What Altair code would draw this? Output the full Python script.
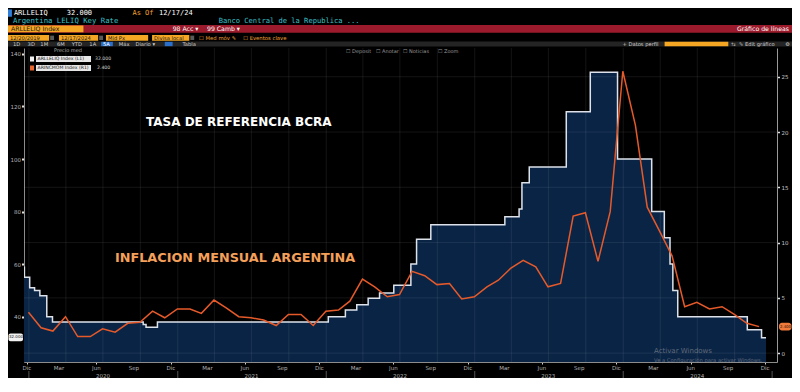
import altair as alt
import pandas as pd

# ---------------- data ----------------
rate_dates = ["2019-12-20", "2019-12-21", "2020-01-03", "2020-01-15", "2020-01-28", "2020-02-14",
              "2020-02-28", "2020-10-08", "2020-10-15", "2020-11-12", "2022-01-06", "2022-02-17",
              "2022-03-17", "2022-04-14", "2022-05-12", "2022-06-16", "2022-07-28", "2022-08-11",
              "2022-09-15", "2023-03-16", "2023-04-20", "2023-04-27", "2023-05-15", "2023-08-14",
              "2023-10-12", "2023-12-18", "2024-03-11", "2024-04-11", "2024-04-25", "2024-05-02",
              "2024-05-14", "2024-11-01", "2024-12-06", "2024-12-17"]
rate_values = [58.8, 55, 51, 50, 48, 40,
               38, 37, 36, 38, 40, 42.5,
               44.5, 47, 49, 52, 60, 69.5,
               75, 78, 81, 91, 97, 118,
               133, 100, 80, 70, 60, 50,
               40, 35, 32, 32]

cpi_months = ["2019-12",
              "2020-01", "2020-02", "2020-03", "2020-04", "2020-05", "2020-06",
              "2020-07", "2020-08", "2020-09", "2020-10", "2020-11", "2020-12",
              "2021-01", "2021-02", "2021-03", "2021-04", "2021-05", "2021-06",
              "2021-07", "2021-08", "2021-09", "2021-10", "2021-11", "2021-12",
              "2022-01", "2022-02", "2022-03", "2022-04", "2022-05", "2022-06",
              "2022-07", "2022-08", "2022-09", "2022-10", "2022-11", "2022-12",
              "2023-01", "2023-02", "2023-03", "2023-04", "2023-05", "2023-06",
              "2023-07", "2023-08", "2023-09", "2023-10", "2023-11", "2023-12",
              "2024-01", "2024-02", "2024-03", "2024-04", "2024-05", "2024-06",
              "2024-07", "2024-08", "2024-09", "2024-10", "2024-11"]
cpi_values = [3.7,
              2.3, 2.0, 3.3, 1.5, 1.5, 2.2, 1.9, 2.7, 2.8, 3.8, 3.2, 4.0,
              4.0, 3.6, 4.8, 4.1, 3.3, 3.2, 3.0, 2.5, 3.5, 3.5, 2.5, 3.8,
              3.9, 4.7, 6.7, 6.0, 5.1, 5.3, 7.4, 7.0, 6.2, 6.3, 4.9, 5.1,
              6.0, 6.6, 7.7, 8.4, 7.8, 6.0, 6.3, 12.4, 12.7, 8.3, 12.8, 25.5,
              20.6, 13.2, 11.0, 8.8, 4.2, 4.6, 4.0, 4.2, 3.5, 2.7, 2.4]

left_ticks = [40, 60, 80, 100, 120, 140]
right_ticks = [0, 5, 10, 15, 20, 25]
right_minor = [0, 2.5, 5, 7.5, 10, 12.5, 15, 17.5, 20, 22.5, 25]
month_tick_dates = ["2019-12-27",
                    "2020-03-15", "2020-06-15", "2020-09-15", "2020-12-15",
                    "2021-03-15", "2021-06-15", "2021-09-15", "2021-12-15",
                    "2022-03-15", "2022-06-15", "2022-09-15", "2022-12-15",
                    "2023-03-15", "2023-06-15", "2023-09-15", "2023-12-15",
                    "2024-03-15", "2024-06-15", "2024-09-15", "2024-12-15"]
month_tick_labels = ["Dic"] + ["Mar", "Jun", "Sep", "Dic"] * 5
quarter_starts = ["2020-01-01", "2020-04-01", "2020-07-01", "2020-10-01",
                  "2021-01-01", "2021-04-01", "2021-07-01", "2021-10-01",
                  "2022-01-01", "2022-04-01", "2022-07-01", "2022-10-01",
                  "2023-01-01", "2023-04-01", "2023-07-01", "2023-10-01",
                  "2024-01-01", "2024-04-01", "2024-07-01", "2024-10-01"]
year_labels = ["2020", "2021", "2022", "2023", "2024"]
year_mid = ["2020-07-01", "2021-07-01", "2022-07-01", "2023-07-01", "2024-07-01"]
year_starts = ["2020-01-01", "2021-01-01", "2022-01-01", "2023-01-01", "2024-01-01", "2025-01-01"]

# ---------------- frames ----------------
rate_df = pd.DataFrame({"date": rate_dates, "v": rate_values})
cpi_df = pd.DataFrame({
    "date": [pd.Period(m).end_time.strftime("%Y-%m-%d") for m in cpi_months],
    "v": cpi_values,
})
mdf = pd.DataFrame({"date": month_tick_dates, "label": month_tick_labels})
qdf = pd.DataFrame({"date": quarter_starts})
hgrid = pd.DataFrame({"v": right_ticks})
ydf = pd.DataFrame({"date": year_mid, "label": year_labels})
ysep = pd.DataFrame({"date": year_starts})
ONE = pd.DataFrame({"k": [0]})

PL, PR = 16, 15
W, H = 784 - PL - PR, 314
LEFT_DOM = [22.75, 142.25]
RIGHT_DOM = [-0.8, 27.6]
MONO = "DejaVu Sans Mono"
SANS = "DejaVu Sans"

def dt(y, m, d):
    return alt.DateTime(year=y, month=m, date=d, utc=True)

xscale = alt.Scale(type="utc", domain=[dt(2019, 12, 20), dt(2025, 1, 13)])
xvals = [dt(2019, 12, 27)] + [dt(y, m, 15) for y in range(2020, 2025) for m in (3, 6, 9, 12)]
xaxis = alt.Axis(values=xvals, labels=False, title=None, grid=False,
                 domainColor="#8c8c8c", tickColor="#cfcfcf", tickSize=2)

def X(field="date:T", axis=None):
    if axis is None:
        return alt.X(field, scale=xscale, title=None)
    return alt.X(field, scale=xscale, axis=axis, title=None)

def hx(rx):
    return rx * 0.98 - PL

def hy(ry):
    return ry * 0.727 - 40

def txt(s, x, y, color, size, font=SANS, weight="normal", align="left", opacity=1.0):
    return alt.Chart(ONE).mark_text(
        text=s, align=align, baseline="middle", color=color, fontSize=size,
        font=font, fontWeight=weight, opacity=opacity
    ).encode(x=alt.value(x), y=alt.value(y))

def box(x1, x2, y1, y2, color, r=0):
    return alt.Chart(ONE).mark_rect(color=color, cornerRadius=r).encode(
        x=alt.value(x1), x2=alt.value(x2), y=alt.value(y1), y2=alt.value(y2))

# ---------------- left (policy rate) ----------------
lscale = alt.Scale(domain=LEFT_DOM, zero=False, nice=False)
laxis = alt.Axis(values=left_ticks, orient="left", title=None, grid=False,
                 domainColor="#8c8c8c", tickColor="#e0e0e0", tickSize=2.5, tickWidth=2,
                 labelColor="#b4b4b4", labelFontSize=5.5, labelFont=SANS, labelPadding=1)

area = alt.Chart(rate_df).mark_area(interpolate="step-after", color="#0a2446", clip=True).encode(
    x=X(axis=xaxis),
    y=alt.Y("v:Q", scale=lscale, axis=laxis, title=None),
    y2=alt.datum(LEFT_DOM[0]),
)
vgrid = alt.Chart(qdf).mark_rule(color="white", opacity=0.1, strokeWidth=0.8).encode(x=X())
rate_line = alt.Chart(rate_df).mark_line(interpolate="step-after", color="#dde2ea",
                                         strokeWidth=1.5, clip=True).encode(
    x=X(), y=alt.Y("v:Q", scale=lscale, title=None))
ltag_box = alt.Chart(ONE).mark_rect(color="#f2f2f2", cornerRadius=2).encode(
    x=alt.value(-PL + 0.5), x2=alt.value(-1), y=alt.datum(33.6), y2=alt.datum(30.6))
ltag_txt = alt.Chart(ONE).mark_text(text="32.000", align="center", baseline="middle",
                                    color="#111111", fontSize=4.0, font=SANS).encode(
    x=alt.value(-PL / 2), y=alt.datum(32.1))
months = alt.Chart(mdf).mark_text(baseline="middle", color="#b4b4b4", fontSize=5.5, font=SANS).encode(
    x=X(), y=alt.value(319.5), text="label:N")
years = alt.Chart(ydf).mark_text(baseline="middle", color="#b4b4b4", fontSize=5.5, font=SANS).encode(
    x=X(), y=alt.value(327.5), text="label:N")
yseps = alt.Chart(ysep).mark_rule(color="#6a6a6a", strokeWidth=0.8).encode(
    x=X(), y=alt.value(323), y2=alt.value(331))

left = alt.layer(area, vgrid, rate_line, ltag_box, ltag_txt, months, years, yseps)

# ---------------- right (monthly inflation) ----------------
rscale = alt.Scale(domain=RIGHT_DOM, zero=False, nice=False)
raxis = alt.Axis(values=right_minor, orient="right", title=None, grid=False,
                 labelExpr="datum.value % 5 === 0 ? format(datum.value, 'd') : ''",
                 domainColor="#9a9a9a", tickColor="#e0e0e0", tickSize=2.5, tickWidth=1.5,
                 labelColor="#c4c4c4", labelFontSize=5.5, labelFont=SANS, labelPadding=1.5)

hg = alt.Chart(hgrid).mark_rule(color="white", opacity=0.1, strokeWidth=0.8).encode(
    y=alt.Y("v:Q", scale=rscale, axis=raxis, title=None))
cpi_line = alt.Chart(cpi_df).mark_line(color="#e65a2a", strokeWidth=1.5, clip=True).encode(
    x=X(), y=alt.Y("v:Q", scale=rscale, title=None))
rtag_box = alt.Chart(ONE).mark_rect(color="#f27a3a", cornerRadius=3).encode(
    x=alt.value(W + 2), x2=alt.value(W + PR - 0.5), y=alt.datum(2.76), y2=alt.datum(2.04))
rtag_txt = alt.Chart(ONE).mark_text(text="2.400", align="center", baseline="middle",
                                    color="#2a1208", fontSize=3.9, font=SANS).encode(
    x=alt.value(W + 1 + PR / 2), y=alt.datum(2.4))

deco = [
    # row 1
    box(hx(0), hx(4), hy(2), hy(12), "#2f7fd8"),
    txt("ARLLELIQ", hx(6), hy(7), "white", 7, MONO),
    txt("32.000", hx(60), hy(7), "white", 7, MONO),
    txt("As Of", hx(127), hy(7), "#f0a030", 7, MONO),
    txt("12/17/24", hx(154), hy(7), "white", 7, MONO),
    # row 2
    txt("Argentina LELIQ Key Rate", hx(5), hy(17.5), "#3cc0c8", 7.3, MONO),
    txt("Banco Central de la Republica ...", hx(215), hy(17.5), "#3cc0c8", 7.1, MONO),
    # red bar
    box(hx(0), hx(800), hy(23.5), hy(34), "#9b1b2c"),
    box(hx(0), hx(77), hy(24), hy(33.5), "#f5a623"),
    txt("ARLLELIQ Index", hx(3), hy(28.8), "#1a1a1a", 6.2),
    txt("98 Acc ▾", hx(168), hy(28.8), "white", 6.2),
    txt("99 Camb ▾", hx(203), hy(28.8), "white", 6.2),
    txt("Gráfico de líneas", hx(797), hy(28.8), "white", 6.2, align="right"),
    # row 4
    box(hx(0), hx(42), hy(37), hy(45), "#f5a623"),
    box(hx(43), hx(47), hy(38), hy(44), "#5a5a5a"),
    box(hx(52), hx(92), hy(37), hy(45), "#f5a623"),
    box(hx(93), hx(97), hy(38), hy(44), "#5a5a5a"),
    box(hx(100), hx(143), hy(37), hy(45), "#f5a623"),
    box(hx(147), hx(185), hy(37), hy(45), "#f5a623"),
    box(hx(186), hx(190), hy(38), hy(44), "#5a5a5a"),
    txt("12/20/2019", hx(2), hy(41), "#1a1a1a", 5.2),
    txt("12/17/2024", hx(54), hy(41), "#1a1a1a", 5.2),
    txt("Mid Px", hx(102), hy(41), "#1a1a1a", 5.2),
    txt("Divisa local", hx(149), hy(41), "#1a1a1a", 5.2),
    txt("☐ Med móv ✎", hx(195), hy(41), "#f0a030", 5.3),
    txt("☐ Eventos clave", hx(240), hy(41), "#f0a030", 5.3),
    # row 5
    box(hx(0), hx(800), hy(46), hy(53), "#242424"),
    box(hx(95), hx(107), hy(46.5), hy(52.5), "#2a6fc9"),
    box(hx(160), hx(168), hy(46.5), hy(52.5), "#2a6fc9"),
    box(hx(670), hx(735), hy(46.5), hy(52.5), "#f5a623"),
    txt("1D", hx(5), hy(49.5), "#d0d0d0", 5.2),
    txt("3D", hx(20), hy(49.5), "#d0d0d0", 5.2),
    txt("1M", hx(33), hy(49.5), "#d0d0d0", 5.2),
    txt("6M", hx(50), hy(49.5), "#d0d0d0", 5.2),
    txt("YTD", hx(65), hy(49.5), "#d0d0d0", 5.2),
    txt("1A", hx(83), hy(49.5), "#d0d0d0", 5.2),
    txt("5A", hx(97), hy(49.5), "white", 5.2),
    txt("Máx", hx(113), hy(49.5), "#d0d0d0", 5.2),
    txt("Diario ▾", hx(130), hy(49.5), "#d0d0d0", 5.2),
    txt("Tabla", hx(178), hy(49.5), "#d0d0d0", 5.2),
    txt("+ Datos perfil", hx(627), hy(49.5), "#d0d0d0", 5.2),
    txt("⇆", hx(738), hy(49.5), "#d0d0d0", 5.2),
    txt("✎ Edit gráfico", hx(746), hy(49.5), "#d0d0d0", 5.2),
    txt("⚙", hx(793), hy(49.5), "#d0d0d0", 5.2),
    # inside plot: legend and toolbar
    txt("Precio med", 44, 2, "#b0b0b0", 5, align="center"),
    box(6, 10, 8.5, 13.5, "#f0f0f0"),
    box(12, 67, 8, 14, "#e6e6e6"),
    txt("ARLLELIQ Index  (L1)", 13.5, 11, "#111111", 4.6),
    txt("32.000", 71, 11, "#d0d0d0", 4.6),
    box(6, 10, 17.5, 22.5, "#e8662c"),
    box(12, 67, 17, 23, "#e6e6e6"),
    txt("ARINCMOM Index  (R1)", 13.5, 20, "#111111", 4.6),
    txt("2.400", 73, 20, "#d0d0d0", 4.6),
    txt("☐ Deposit", 322, 2.5, "#9a9a9a", 5),
    txt("☐ Anotar", 352, 2.5, "#9a9a9a", 5),
    txt("☐ Noticias", 379, 2.5, "#9a9a9a", 5),
    txt("☐ Zoom", 414, 2.5, "#9a9a9a", 5),
    # annotations
    txt("TASA DE REFERENCIA BCRA", 122, 74, "white", 12, weight="bold"),
    txt("INFLACION MENSUAL ARGENTINA", 91, 210, "#f5a05a", 12.8, weight="bold"),
    # watermark
    txt("Activar Windows", 630, 303, "#a0a0a0", 7, opacity=0.55),
    txt("Ve a Configuración para activar Windows.", 630, 311.5, "#a0a0a0", 5.2, opacity=0.55),
]

right = alt.layer(hg, cpi_line, rtag_box, rtag_txt, *deco)

chart = alt.layer(left, right).resolve_scale(y="independent").properties(
    width=W, height=H,
    padding={"left": PL, "top": 40, "right": PR, "bottom": 16},
    autosize=alt.AutoSizeParams(type="none"),
    background="#000000",
).configure_view(stroke=None, fill="#000000")

chart.save("out.html", embed_options={"renderer": "svg", "actions": False})
